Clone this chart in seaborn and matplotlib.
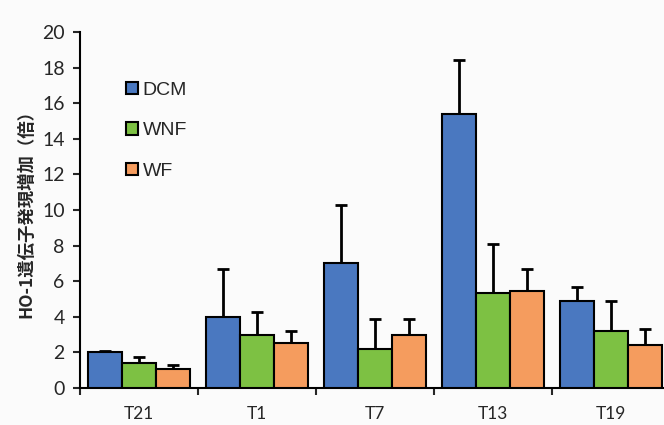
import matplotlib
matplotlib.use("Agg")
import matplotlib.pyplot as plt
import seaborn as sns
import pandas as pd
import numpy as np

categories = ["T21", "T1", "T7", "T13", "T19"]
groups = ["DCM", "WNF", "WF"]
dcm = [2.0, 4.0, 7.05, 15.4, 4.9]
wnf = [1.4, 3.0, 2.2, 5.35, 3.2]
wf = [1.08, 2.55, 2.98, 5.45, 2.42]
dcm_err = [0.08, 2.7, 3.25, 3.05, 0.8]
wnf_err = [0.35, 1.25, 1.7, 2.75, 1.68]
wf_err = [0.22, 0.65, 0.92, 1.25, 0.9]
colors = ["#4a78c0", "#7dc143", "#f59c5e"]
ylabel = "HO-1遺伝子発現増加（倍）"

values = {"DCM": dcm, "WNF": wnf, "WF": wf}
errors = {"DCM": dcm_err, "WNF": wnf_err, "WF": wf_err}
rows = []
for g in groups:
    for c, v in zip(categories, values[g]):
        rows.append({"cat": c, "grp": g, "val": v})
df = pd.DataFrame(rows)

sns.set_style("ticks")
plt.rcParams["font.family"] = ["Lato", "DejaVu Sans"]

fig = plt.figure(figsize=(6.64, 4.25), dpi=100, facecolor="#fbfbfb")
ax = fig.add_axes([80 / 664, 1 - 388 / 425, 590 / 664, 356 / 425])
ax.set_facecolor("#fbfbfb")

sns.barplot(data=df, x="cat", y="val", hue="grp", order=categories,
            hue_order=groups, palette=colors, errorbar=None, width=0.86,
            edgecolor="black", linewidth=1.5, saturation=1, ax=ax, zorder=3)

for cont, g in zip(ax.containers, groups):
    xs = [b.get_x() + b.get_width() / 2 for b in cont]
    ys = [b.get_height() for b in cont]
    err = errors[g]
    ax.errorbar(xs, ys, yerr=[np.zeros(len(err)), err], fmt="none",
                ecolor="black", elinewidth=2, capsize=4, capthick=2, zorder=2)

ax.set_ylim(0, 20)
ax.set_xlim(-0.5, 4.5)
ax.set_yticks(range(0, 21, 2))
ax.tick_params(axis="y", length=5, width=1.5, labelsize=14, direction="out", pad=6)
ax.set_xticks(range(len(categories)))
ax.set_xticklabels(categories)
ax.tick_params(axis="x", which="major", length=0, labelsize=12.5, pad=13)
ax.set_xticks(np.arange(-0.5, 4.6, 1), minor=True)
ax.tick_params(axis="x", which="minor", length=5, width=1.5, direction="out")
for s in ["top", "right"]:
    ax.spines[s].set_visible(False)
for s in ["left", "bottom"]:
    ax.spines[s].set_linewidth(1.5)
    ax.spines[s].set_color("black")
ax.set_xlabel("")
ax.set_ylabel(ylabel, fontsize=12.5, fontweight="bold",
              family=["Noto Sans CJK JP", "DejaVu Sans"], labelpad=5)

handles, labels = ax.get_legend_handles_labels()
ax.legend(handles, labels, loc="upper left",
          bbox_to_anchor=(126 / 664, 1 - 82 / 425), bbox_transform=fig.transFigure,
          frameon=False, borderpad=0, borderaxespad=0, handlelength=0.6,
          handleheight=0.6, handletextpad=0.25, labelspacing=1.2,
          prop={"family": "Liberation Sans", "size": 14})

fig.savefig("out.png", dpi=100, facecolor=fig.get_facecolor())
